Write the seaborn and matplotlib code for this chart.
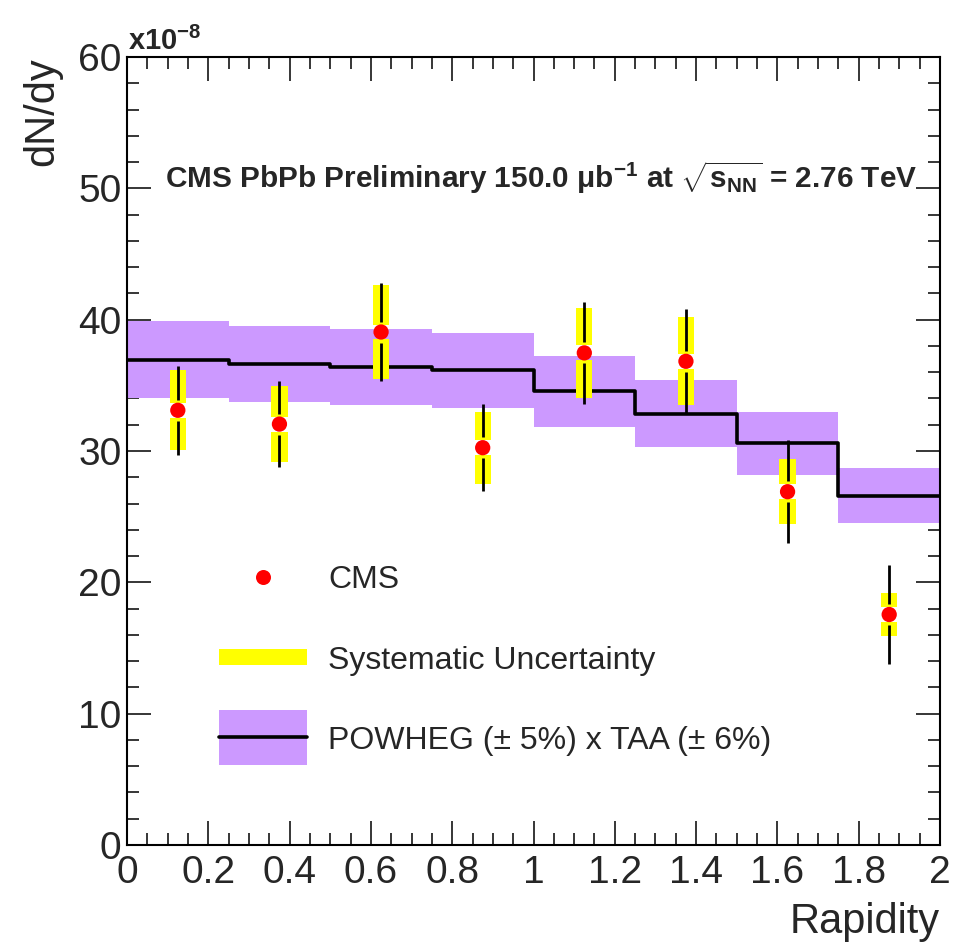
import numpy as np
import matplotlib
matplotlib.use("Agg")
import matplotlib.pyplot as plt
import seaborn as sns
import pandas as pd
from matplotlib.lines import Line2D
from matplotlib.patches import Rectangle
from matplotlib.ticker import MultipleLocator

# ---------------- data ----------------
rapidity = [0.125, 0.375, 0.625, 0.875, 1.125, 1.375, 1.625, 1.875]
cms_dndy = [33.1, 32.05, 39.06, 30.25, 37.47, 36.83, 26.9, 17.55]
stat_err = [3.4, 3.3, 3.7, 3.3, 3.9, 4.0, 3.9, 3.8]
syst_err = [3.05, 2.9, 3.6, 2.75, 3.4, 3.35, 2.47, 1.6]

bin_edges = [0.0, 0.25, 0.5, 0.75, 1.0, 1.25, 1.5, 1.75, 2.0]
powheg = [36.93, 36.65, 36.4, 36.15, 34.55, 32.8, 30.6, 26.6]
powheg_hi = [39.87, 39.54, 39.26, 38.98, 37.2, 35.4, 33.0, 28.7]
powheg_lo = [34.0, 33.74, 33.5, 33.3, 31.8, 30.3, 28.2, 24.5]

x_ticks = [0.0, 0.2, 0.4, 0.6, 0.8, 1.0, 1.2, 1.4, 1.6, 1.8, 2.0]
x_tick_labels = ["0", "0.2", "0.4", "0.6", "0.8", "1", "1.2", "1.4", "1.6", "1.8", "2"]
y_ticks = [0, 10, 20, 30, 40, 50, 60]
y_tick_labels = ["0", "10", "20", "30", "40", "50", "60"]

legend_labels = ["CMS", "Systematic Uncertainty", "POWHEG (\u00b1 5%) x TAA (\u00b1 6%)"]

# ---------------- style ----------------
sns.set_style("ticks")
plt.rcParams["font.family"] = ["Liberation Sans", "DejaVu Sans"]
plt.rcParams["mathtext.fontset"] = "custom"
plt.rcParams["mathtext.rm"] = "Liberation Sans"
plt.rcParams["mathtext.bf"] = "Liberation Sans:bold"
plt.rcParams["mathtext.default"] = "regular"

W, H = 955, 948
fig = plt.figure(figsize=(W / 100, H / 100), dpi=100, facecolor="white")
ax = fig.add_axes([127 / W, 1 - 845 / H, (940 - 127) / W, (845 - 57) / H])
ax.set_facecolor("white")


def fx(px):
    return px / W


def fy(py):
    return 1 - py / H


purple = "#cc99ff"
yellow = "#ffff00"

edges = np.array(bin_edges)
widths = np.diff(edges)
lo = np.array(powheg_lo)
hi = np.array(powheg_hi)
ax.bar(edges[:-1], hi - lo, bottom=lo, width=widths, align="edge",
       color=purple, edgecolor="none", linewidth=0, zorder=1)

step_df = pd.DataFrame({"x": edges, "y": np.append(powheg, powheg[-1])})
sns.lineplot(data=step_df, x="x", y="y", drawstyle="steps-post", color="black",
             linewidth=2.6, estimator=None, sort=False, ax=ax, zorder=2)

xs = np.array(rapidity)
ys = np.array(cms_dndy)
st = np.array(stat_err)
sy = np.array(syst_err)
ygap = 0.57
sgap = 0.8
ax.bar(xs, sy - ygap, bottom=ys + ygap, width=0.04, color=yellow, edgecolor="none", zorder=3)
ax.bar(xs, sy - ygap, bottom=ys - sy, width=0.04, color=yellow, edgecolor="none", zorder=3)
ax.vlines(xs, ys + sgap, ys + st, color="black", linewidth=2.0, zorder=4)
ax.vlines(xs, ys - st, ys - sgap, color="black", linewidth=2.0, zorder=4)

pts = pd.DataFrame({"x": rapidity, "y": cms_dndy})
sns.scatterplot(data=pts, x="x", y="y", color="red", s=11 ** 2, edgecolor="none",
                linewidth=0, ax=ax, zorder=5)

ax.set_xlim(0, 2)
ax.set_ylim(0, 60)
ax.set_xlabel("")
ax.set_ylabel("")
ax.set_xticks(x_ticks)
ax.set_xticklabels(x_tick_labels)
ax.set_yticks(y_ticks)
ax.set_yticklabels(y_tick_labels)
ax.xaxis.set_minor_locator(MultipleLocator(0.05))
ax.yaxis.set_minor_locator(MultipleLocator(2))
ax.tick_params(which="both", direction="in", top=True, right=True, width=1.1, color="black")
ax.tick_params(which="major", length=17)
ax.tick_params(which="minor", length=8.5)
ax.tick_params(axis="x", which="major", labelsize=28, pad=7)
ax.tick_params(axis="y", which="major", labelsize=28, pad=4)
for sp in ax.spines.values():
    sp.set_visible(True)
    sp.set_linewidth(1.5)
    sp.set_color("black")

# axis titles
fig.text(42 / W, 1 - 57 / H, "dN/dy", rotation=90, ha="center", va="top", fontsize=30)
fig.text(940 / W, 1 - 922 / H, "Rapidity", ha="right", va="center", fontsize=30)
fig.text(128 / W, 1 - 50 / H, r"x10$^{-8}$", ha="left", va="baseline", fontsize=21,
         fontweight="bold")

# header
fig.text(541 / W, 1 - 178 / H,
         "CMS PbPb Preliminary 150.0 \u03bcb$^{-1}$ at $\\sqrt{s_{NN}}$ = 2.76 TeV",
         ha="center", va="center", fontsize=21.4, fontweight="bold")

# legend (drawn by hand to match the ROOT layout)
tf = fig.transFigure
fig.add_artist(Line2D([fx(263)], [fy(577)], ls="none", marker="o", color="red",
                      markersize=10.8, markeredgecolor="none", transform=tf))
fig.add_artist(Rectangle((fx(219), fy(665)), fx(307) - fx(219), 16 / H,
                         facecolor=yellow, edgecolor="none", transform=tf))
fig.add_artist(Rectangle((fx(219), fy(765)), fx(307) - fx(219), 55 / H,
                         facecolor=purple, edgecolor="none", transform=tf))
fig.add_artist(Line2D([fx(219), fx(307)], [fy(737), fy(737)], color="black",
                      linewidth=2.6, transform=tf))
for lab, yc in zip(legend_labels, [577, 657, 737]):
    fig.text(fx(328), fy(yc + 11.5), lab, ha="left", va="baseline", fontsize=23)

fig.savefig("out.png", dpi=100, facecolor="white")
